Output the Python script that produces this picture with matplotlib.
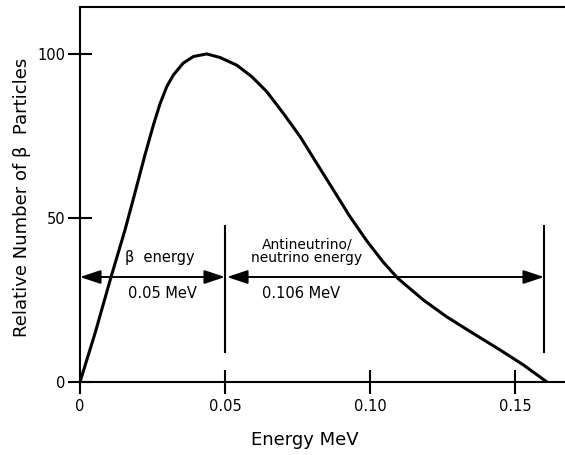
import matplotlib
matplotlib.use("Agg")
import matplotlib.pyplot as plt

# Data
energy = [0, 0.0052, 0.0107, 0.0155, 0.0183, 0.0224, 0.0253, 0.0276, 0.0299,
          0.0322, 0.0356, 0.0391, 0.0437, 0.0483, 0.054, 0.0592, 0.0644,
          0.0701, 0.0759, 0.0816, 0.0874, 0.0931, 0.0989, 0.1046, 0.1096,
          0.1184, 0.1264, 0.1356, 0.1448, 0.1529, 0.161]
relative = [0, 14.9, 32, 46.3, 55.5, 69.2, 78.3, 84.8, 90.0,
            93.6, 97.2, 99.2, 100, 98.9, 96.6, 93.1, 88.5,
            81.9, 74.8, 66.7, 58.5, 50.4, 43.0, 36.5, 31.6,
            25.0, 19.9, 14.8, 9.8, 5.2, 0]
xticks = [0, 0.05, 0.10, 0.15]
xtick_labels = ["0", "0.05", "0.10", "0.15"]
yticks = [0, 50, 100]
ytick_labels = ["0", "50", "100"]
beta_max = 0.05
endpoint = 0.16
arrow_level = 32
marker_top = 47.5
marker_bottom = 9.1

plt.rcParams['font.family'] = ['DejaVu Sans']

W, H = 565, 455
fig = plt.figure(figsize=(W / 100, H / 100), dpi=100)
ax = fig.add_axes([80 / W, (H - 382) / H, (W - 80) / W, (382 - 7) / H])

ax.plot(energy, relative, color='black', lw=2.2, solid_capstyle='round',
        solid_joinstyle='round')

ax.set_xlim(0, (W - 80) / 2900)
ax.set_ylim(0, 114.3)

for s in ['left', 'top', 'bottom']:
    ax.spines[s].set_linewidth(1.5)
ax.spines['right'].set_visible(False)

ax.set_xticks(xticks)
ax.set_xticklabels(xtick_labels)
ax.set_yticks(yticks)
ax.set_yticklabels(ytick_labels)
ax.tick_params(axis='both', direction='inout', length=17, width=1.5,
               labelsize=10.5)
ax.tick_params(axis='x', pad=4)
ax.tick_params(axis='y', pad=2)

# vertical markers
for xv in [beta_max, endpoint]:
    ax.plot([xv, xv], [marker_bottom, marker_top], color='black', lw=1.5)

# arrows
arrowprops = dict(arrowstyle='<|-|>,head_length=0.9,head_width=0.3',
                  color='black', lw=1.4, shrinkA=0, shrinkB=0,
                  mutation_scale=14)
ax.annotate('', xy=(0, arrow_level), xytext=(beta_max, arrow_level),
            arrowprops=arrowprops)
ax.annotate('', xy=(beta_max + 0.0007, arrow_level), xytext=(endpoint, arrow_level),
            arrowprops=arrowprops)

ax.text(0.0274, 37.8, 'β  energy', ha='center', va='center', fontsize=10.5)
ax.text(0.0283, 27.1, '0.05 MeV', ha='center', va='center', fontsize=10.5)
ax.text(0.0782, 39.8, 'Antineutrino/\nneutrino energy', ha='center',
        va='center', fontsize=10, linespacing=1.0)
ax.text(0.0762, 27.1, '0.106 MeV', ha='center', va='center', fontsize=10.5)

fig.text(305 / W, 1 - 440 / H, 'Energy MeV', ha='center', va='center',
         fontsize=13)
fig.text(22 / W, 1 - 197 / H, 'Relative Number of β  Particles', ha='center',
         va='center', rotation=90, fontsize=13)

fig.savefig('out.png', dpi=100)
